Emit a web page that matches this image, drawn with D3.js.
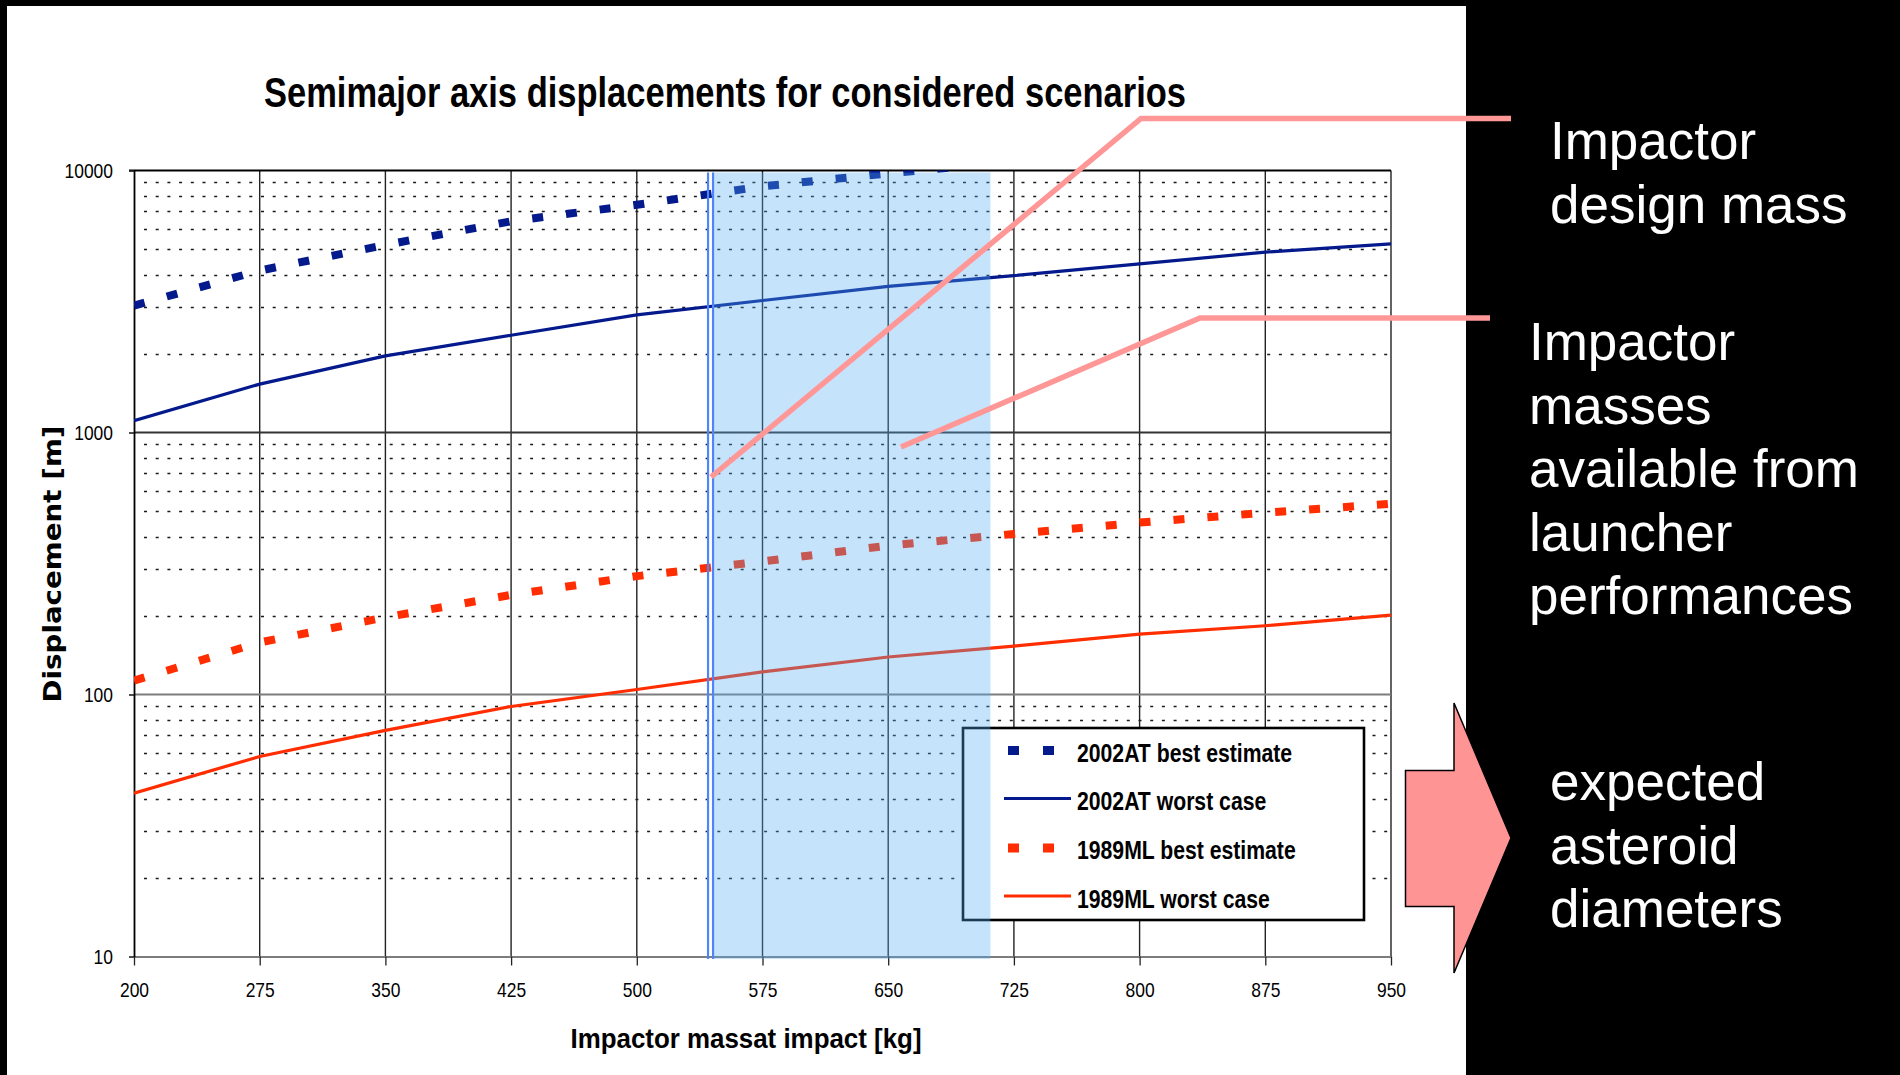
<!DOCTYPE html>
<html>
<head>
<meta charset="utf-8">
<script src="https://cdn.jsdelivr.net/npm/d3@7"></script>
<style>
  html, body { margin: 0; padding: 0; background: #000; }
  svg { display: block; }
</style>
</head>
<body>
<svg id="chart" width="1900" height="1075"></svg>
<script>
// ---- data ----
const massTicks = [200, 275, 350, 425, 500, 575, 650, 725, 800, 875, 950];
const displacementTicks = [10, 100, 1000, 10000];

// semimajor axis displacement [m] per impactor mass [kg]
const at2002Best  = [3050, 4150, 5200, 6400, 7400, 8700, 9750, 10800];          // runs off the top after 650 kg
const at2002Worst = [1110, 1530, 1960, 2350, 2810, 3190, 3610, 3970, 4400, 4880, 5250];
const ml1989Best  = [113, 158, 197, 240, 283, 322, 370, 410, 453, 494, 535];
const ml1989Worst = [42, 58, 73, 90, 104.5, 122, 139, 153, 170, 183, 201];

const seriesNames = ["2002AT best estimate", "2002AT worst case", "1989ML best estimate", "1989ML worst case"];

const designMass = 544;               // impactor design mass [kg]
const launcherRange = [545.5, 711];   // masses available from launcher performances [kg]

const notes = {
  design:   ["Impactor", "design mass"],
  launcher: ["Impactor", "masses", "available from", "launcher", "performances"],
  diameter: ["expected", "asteroid", "diameters"]
};

// ---- layout ----
const svg = d3.select("#chart");
const W = 1900, H = 1075;
const plot = { left: 134, right: 1391, top: 170.5, bottom: 956.5 };

const x = d3.scaleLinear().domain([200, 950]).range([plot.left, plot.right]);
const y = d3.scaleLog().domain([10, 10000]).range([plot.bottom, plot.top]);

const NAVY = "#03198C", RED = "#FF2D00", PINK = "#FF9797";
const NARROW = "'Liberation Sans', Arial, sans-serif";

// squeeze a text element horizontally, like a condensed face
function condense(sel, f) {
  sel.each(function () {
    const w = this.getComputedTextLength();
    d3.select(this).attr("textLength", w * f).attr("lengthAdjust", "spacingAndGlyphs");
  });
}

// backgrounds
svg.append("rect").attr("width", W).attr("height", H).attr("fill", "#000");
svg.append("rect").attr("x", 7).attr("y", 6).attr("width", 1459).attr("height", H - 6).attr("fill", "#fff");

// title
svg.append("text")
  .attr("x", 725).attr("y", 107)
  .attr("text-anchor", "middle")
  .attr("font-family", NARROW).attr("font-weight", "bold").attr("font-size", 43)
  .attr("textLength", 922).attr("lengthAdjust", "spacingAndGlyphs")
  .text("Semimajor axis displacements for considered scenarios");

// ---- grid ----
const grid = svg.append("g");
const minor = [];
[10, 100, 1000].forEach(d => { for (let k = 2; k <= 9; k++) minor.push(d * k); });
grid.selectAll("line.minor").data(minor).join("line")
  .attr("x1", plot.left + 10).attr("x2", plot.right)
  .attr("y1", d => Math.round(y(d)) + 0.5).attr("y2", d => Math.round(y(d)) + 0.5)
  .attr("stroke", "#1a1a1a").attr("stroke-width", 1.6)
  .attr("stroke-dasharray", "3 8.7");

grid.selectAll("line.vgrid").data(massTicks.slice(1)).join("line")
  .attr("x1", d => x(d)).attr("x2", d => x(d))
  .attr("y1", plot.top).attr("y2", plot.bottom)
  .attr("stroke", "#222").attr("stroke-width", 1.4);

// decade lines
grid.append("line").attr("x1", plot.left).attr("x2", plot.right)
  .attr("y1", y(1000)).attr("y2", y(1000)).attr("stroke", "#333").attr("stroke-width", 1.8);
grid.append("line").attr("x1", plot.left).attr("x2", plot.right)
  .attr("y1", y(100)).attr("y2", y(100)).attr("stroke", "#7d7d7d").attr("stroke-width", 2.2);
grid.append("line").attr("x1", plot.left - 5).attr("x2", plot.right)
  .attr("y1", y(10000)).attr("y2", y(10000)).attr("stroke", "#000").attr("stroke-width", 1.8);

// ---- axes ----
const xAxis = svg.append("g")
  .attr("transform", `translate(0,${plot.bottom})`)
  .call(d3.axisBottom(x).tickValues(massTicks).tickSize(9).tickSizeOuter(0).tickFormat(d3.format("d")));
xAxis.select(".domain").attr("stroke", "#7d7d7d").attr("stroke-width", 2.2);
xAxis.selectAll(".tick line").attr("stroke", "#222").attr("stroke-width", 1.3);
xAxis.selectAll(".tick text")
  .attr("y", 40.5).attr("dy", null)
  .attr("font-family", NARROW).attr("font-size", 21).attr("fill", "#000")
  .call(condense, 0.83);

const yAxis = svg.append("g")
  .attr("transform", `translate(${plot.left},0)`)
  .call(d3.axisLeft(y).tickValues(displacementTicks).tickSize(5).tickSizeOuter(0).tickFormat(d3.format("d")));
yAxis.select(".domain").attr("stroke", "#000").attr("stroke-width", 1.8);
yAxis.selectAll(".tick line").attr("stroke", "#222").attr("stroke-width", 1.6);
yAxis.selectAll(".tick text")
  .attr("x", -21)
  .attr("font-family", NARROW).attr("font-size", 21).attr("fill", "#000")
  .call(condense, 0.83);

// axis titles
svg.append("text")
  .attr("x", 746).attr("y", 1048).attr("text-anchor", "middle")
  .attr("font-family", NARROW).attr("font-weight", "bold").attr("font-size", 28)
  .attr("textLength", 351).attr("lengthAdjust", "spacingAndGlyphs")
  .text("Impactor massat impact [kg]");

svg.append("text")
  .attr("transform", "translate(61,564) rotate(-90)")
  .attr("text-anchor", "middle")
  .attr("font-family", "'DejaVu Sans', Verdana, sans-serif").attr("font-weight", "bold").attr("font-size", 24)
  .attr("textLength", 277).attr("lengthAdjust", "spacingAndGlyphs")
  .text("Displacement  [m]");

// ---- series ----
svg.append("clipPath").attr("id", "plotClip")
  .append("rect").attr("x", plot.left).attr("y", plot.top)
  .attr("width", plot.right - plot.left).attr("height", plot.bottom - plot.top);

const line = d3.line().x(d => x(d[0])).y(d => y(d[1]));
const pairs = vals => vals.map((v, i) => [massTicks[i], v]);

const series = [
  { name: seriesNames[0], vals: at2002Best,  color: NAVY, dashed: true },
  { name: seriesNames[1], vals: at2002Worst, color: NAVY, dashed: false },
  { name: seriesNames[2], vals: ml1989Best,  color: RED,  dashed: true },
  { name: seriesNames[3], vals: ml1989Worst, color: RED,  dashed: false }
];

const lines = svg.append("g").attr("clip-path", "url(#plotClip)");
lines.selectAll("path").data(series).join("path")
  .attr("d", d => line(pairs(d.vals)))
  .attr("fill", "none")
  .attr("stroke", d => d.color)
  .attr("stroke-width", d => d.dashed ? 8 : 3.2)
  .attr("stroke-dasharray", d => d.dashed ? "11 23" : null)
  .attr("stroke-linejoin", "round");

// ---- legend ----
const legend = svg.append("g");
legend.append("rect")
  .attr("x", 963).attr("y", 728).attr("width", 401).attr("height", 192)
  .attr("fill", "#fff").attr("stroke", "#000").attr("stroke-width", 2.6);

const rowBase = [761.5, 810, 859, 907.5];
const rows = legend.selectAll("g.row").data(series).join("g")
  .attr("transform", (d, i) => `translate(0,${rowBase[i]})`);
rows.each(function (d) {
  const g = d3.select(this);
  if (d.dashed) {
    [1008, 1043].forEach(sx => g.append("rect")
      .attr("x", sx).attr("y", -15.5).attr("width", 11).attr("height", 9).attr("fill", d.color));
  } else {
    g.append("line").attr("x1", 1004).attr("x2", 1071).attr("y1", -11.5).attr("y2", -11.5)
      .attr("stroke", d.color).attr("stroke-width", 3.2);
  }
});
rows.append("text")
  .attr("x", 1077).attr("y", 0)
  .attr("font-family", NARROW).attr("font-weight", "bold").attr("font-size", 26)
  .text(d => d.name)
  .call(condense, 0.815);

// ---- launcher mass band and design mass marker ----
svg.append("rect")
  .attr("x", x(launcherRange[0])).attr("y", plot.top + 2)
  .attr("width", x(launcherRange[1]) - x(launcherRange[0]))
  .attr("height", plot.bottom + 2.5 - (plot.top + 2))
  .attr("fill", "rgb(83,175,246)").attr("fill-opacity", 0.337);

[-2.5, 2.5].forEach(off => svg.append("line")
  .attr("x1", x(designMass) + off).attr("x2", x(designMass) + off)
  .attr("y1", plot.top + 2).attr("y2", plot.bottom + 2.5)
  .attr("stroke", "#4F84FA").attr("stroke-width", 2.2));

// ---- annotations ----
const callout = d3.line();
svg.append("path")
  .attr("d", callout([[711, 477], [1141, 118.5], [1511, 118.5]]))
  .attr("fill", "none").attr("stroke", PINK).attr("stroke-width", 5.5);
svg.append("path")
  .attr("d", callout([[901, 447], [1200, 318], [1490, 318]]))
  .attr("fill", "none").attr("stroke", PINK).attr("stroke-width", 5.5);

// block arrow pointing to the asteroid diameter note
svg.append("path")
  .attr("d", "M1405.5,770.5 L1454,770.5 L1454,703 L1511,838 L1454,973 L1454,906.5 L1405.5,906.5 Z")
  .attr("fill", "#FF9494").attr("stroke", "#000").attr("stroke-width", 1.5);

function noteBlock(linesTxt, x0, y0) {
  svg.append("g").selectAll("text").data(linesTxt).join("text")
    .attr("x", x0).attr("y", (d, i) => y0 + i * 63.5)
    .attr("font-family", "'Liberation Sans', Arial, sans-serif").attr("font-size", 53)
    .attr("fill", "#fff")
    .text(d => d);
}
noteBlock(notes.design, 1550, 159);
noteBlock(notes.launcher, 1529, 360);
noteBlock(notes.diameter, 1550, 800);
</script>
</body>
</html>
